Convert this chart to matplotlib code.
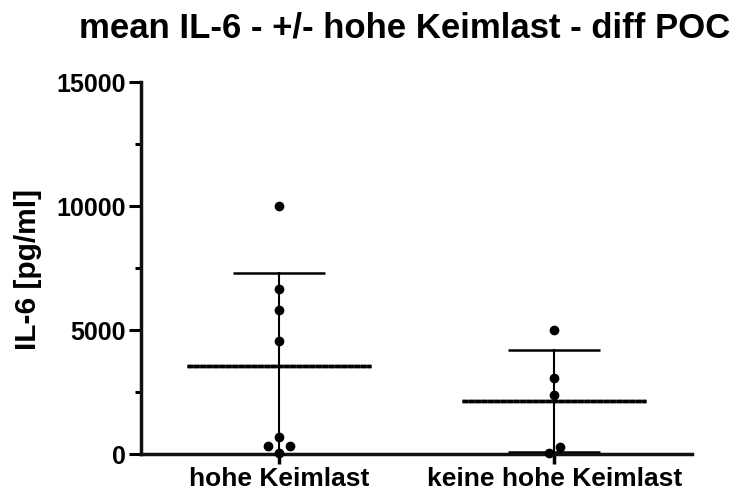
import matplotlib
matplotlib.use('Agg')
import matplotlib.pyplot as plt
from matplotlib.ticker import MultipleLocator
import numpy as np

plt.rcParams['font.family'] = ['Liberation Sans', 'DejaVu Sans']
plt.rcParams['font.weight'] = 'bold'

# IL-6 Werte je Gruppe (pg/ml)
groups = ['hohe Keimlast', 'keine hohe Keimlast']
il6_hohe = [10000, 6650, 5820, 4580, 700, 340, 340, 50]
il6_keine = [5000, 3070, 2390, 300, 30]
y_ticks = [0, 5000, 10000, 15000]

# Layout
W, H = 734, 496
ax_left, ax_right, ax_top, ax_bottom = 141, 692, 82.5, 454
ymax = 15000
px_per_val = (ax_bottom - ax_top) / ymax
px_per_unit = (ax_right - ax_left) / 2.0


def spread(values, min_dist=10, step=11):
    """simple swarm: push colliding points sideways (in pixels)"""
    placed = []
    for v in values:
        y = v * px_per_val
        for k in [0, -1, 1, -2, 2, -3, 3]:
            x = k * step
            if all(np.hypot(x - px, y - py) >= min_dist for px, py in placed):
                break
        placed.append([x, y])
    # a lone pair (one centred, one pushed aside) is split evenly
    for j, (x, y) in enumerate(placed):
        if x == 0:
            continue
        nb = [p for p in placed if p is not placed[j] and p[0] == 0
              and abs(p[1] - y) < min_dist]
        others = [p for p in placed if p is not placed[j] and p[0] != 0
                  and abs(p[1] - y) < min_dist]
        if len(nb) == 1 and not others:
            nb[0][0] = -x / 2
            placed[j][0] = x / 2
    return np.array([p[0] / px_per_unit for p in placed])


fig = plt.figure(figsize=(W / 100, H / 100), dpi=100)
ax = fig.add_axes([ax_left / W, 1 - ax_bottom / H,
                   (ax_right - ax_left) / W, (ax_bottom - ax_top) / H])

for i, vals in enumerate([il6_hohe, il6_keine]):
    vals = np.array(vals, dtype=float)
    m = vals.mean()
    sd = vals.std(ddof=1)
    # Mittelwert-Linie
    ax.plot([i - 0.334, i + 0.334], [m, m], color='#2a2a2a', lw=2.5,
            solid_capstyle='butt', zorder=2)
    ax.plot([i - 0.334, i + 0.334], [m, m], color='black', lw=2.5,
            dashes=(1.6, 0.25), dash_capstyle='butt', zorder=2.1)
    # SD Fehlerbalken
    ax.plot([i, i], [m - sd, m + sd], color='black', lw=1.5, zorder=2)
    for cap in (m - sd, m + sd):
        ax.plot([i - 0.167, i + 0.167], [cap, cap], color='black', lw=1.8,
                solid_capstyle='butt', zorder=2)
    # Einzelwerte
    xs = i + spread(vals)
    ax.plot(xs, vals, 'o', color='black', markersize=6, zorder=4, clip_on=False)

ax.set_xlim(-0.5, 1.5)
ax.set_ylim(0, ymax)

for side in ['top', 'right']:
    ax.spines[side].set_visible(False)
for side in ['left', 'bottom']:
    ax.spines[side].set_linewidth(2.5)
    ax.spines[side].set_color('#111111')
    ax.spines[side].set_capstyle('projecting')

ax.set_yticks(y_ticks)
ax.set_yticklabels([str(t) for t in y_ticks])
ax.yaxis.set_minor_locator(MultipleLocator(2500))
ax.set_xticks(range(len(groups)))
ax.set_xticklabels(groups)

ax.tick_params(axis='y', which='major', length=8.5, width=2.2, labelsize=18, pad=2.5)
ax.tick_params(axis='y', which='minor', length=4.5, width=2.2)
ax.tick_params(axis='x', which='major', length=7, width=2.5, labelsize=19, pad=2.5)

fig.text(28 / W, 1 - 269 / H, 'IL-6 [pg/ml]', rotation=90, ha='center',
         va='center', fontsize=21.5, fontweight='bold')
fig.text(404.5 / W, 1 - 38 / H, 'mean IL-6 - +/- hohe Keimlast - diff POC',
         ha='center', va='baseline', fontsize=25, fontweight='bold')

fig.savefig('out.png', dpi=100, facecolor='white')
